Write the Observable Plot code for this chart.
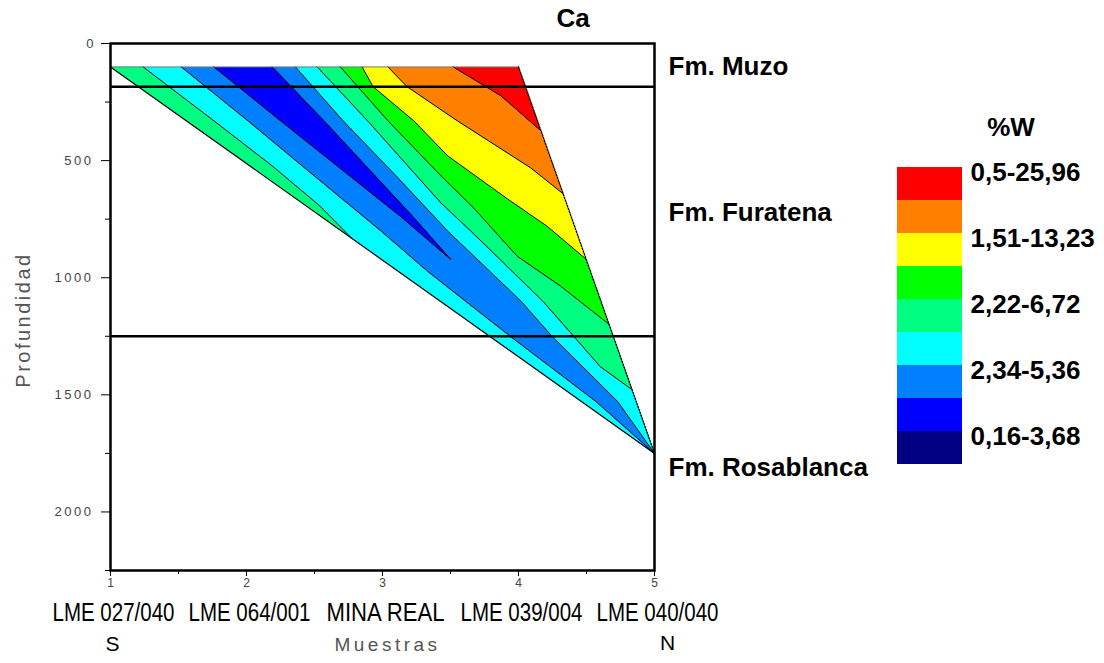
<!DOCTYPE html>
<html><head><meta charset="utf-8">
<script src="https://cdn.jsdelivr.net/npm/d3@7"></script>
<script src="https://cdn.jsdelivr.net/npm/@observablehq/plot@0.6"></script>
<style>
body{margin:0;background:#fff;font-family:"Liberation Sans",Arial,sans-serif;}
#wrap{position:relative;width:1104px;height:663px;overflow:hidden;}
#chart{position:absolute;left:0;top:0}
#legend{position:absolute;left:870px;top:90px}
#title{position:absolute;left:573px;top:3px;transform:translateX(-50%);font-weight:bold;font-size:26px;line-height:30px;}
</style></head><body>
<div id="wrap"><div id="chart"></div><div id="legend"></div><div id="title">Ca</div></div>
<script>
// ---- data ----
const samples = ["LME 027/040", "LME 064/001", "MINA REAL", "LME 039/004", "LME 040/040"];
const sampleX = [1, 2, 3, 4, 5];
const directions = ["S", "N"];
const directionX = [1, 5];
const yTicks = [0, 500, 1000, 1500, 2000];
const yMinor = [250, 750, 1250, 1750, 2250];
const xMinor = [1.5, 2.5, 3.5, 4.5];
const formationTops = [185, 1250];
const formations = ["Fm. Muzo", "Fm. Furatena", "Fm. Rosablanca"];
const formationLabelDepth = [98, 724, 1812];
const xTitle = "Muestras";
const yTitle = "Profundidad";

// data domain (sample position, depth)
const cornerTopLeft = [1, 100];
const cornerTopRight = [4, 100];
const cornerApex = [5, 1750];

// contour lines: [sample position, depth]
const c1 = [[1.24,100],[1.76,330],[2.19,523],[2.54,694],[2.78,835]];                                   // mint / cyan (W)
const c2 = [[1.52,100],[2.01,330],[2.41,523],[2.99,801],[3.33,972],[3.93,1246],[4.57,1529],[5,1750]];   // cyan / azure (W)
const c3 = [[1.76,100],[2.25,330],[3.13,737],[3.5,921]];                                                // azure / blue
const c4 = [[2.19,100],[2.57,330],[3.22,737],[3.5,921]];                                                // blue / azure
const c5 = [[2.36,100],[2.71,330],[3.10,565],[3.48,801],[4.02,1101],[4.24,1246],[4.73,1529],[5,1750]];  // azure / cyan (E)
const c6 = [[2.52,100],[2.89,330],[3.43,681],[3.65,801],[4.18,1101],[4.40,1246],[4.60,1379],[4.835,1478]]; // cyan / mint (E)
const c7 = [[2.69,100],[3.04,330],[3.43,565],[3.67,702],[3.99,908],[4.31,1036],[4.666,1199]];          // mint / green
const c8 = [[2.85,100],[2.93,184],[3.23,330],[3.48,480],[3.92,664],[4.21,780],[4.497,921]];            // green / yellow
const c9 = [[3.04,100],[3.18,184],[3.55,330],[4.09,531],[4.329,642]];                                  // yellow / orange
const c10 = [[3.52,100],[3.87,223],[4.165,373]];                                                        // orange / red

const legendColors = ["#ff0000","#ff8000","#ffff00","#00ff00","#00ff80","#00ffff","#0080ff","#0000ff","#000080"];
const legendLabels = ["0,5-25,96", "1,51-13,23", "2,22-6,72", "2,34-5,36", "0,16-3,68"];
const legendUnit = "%W";

// ---- bands built from the contour lines ----
const rev = a => a.slice().reverse();
const bands = [
  {color: "#00ff80", pts: [cornerTopLeft, ...c1]},
  {color: "#00ffff", pts: [...c1, ...rev(c2)]},
  {color: "#0080ff", pts: [...c2, ...rev(c5)]},
  {color: "#0000ff", pts: [...c3, ...rev(c4)]},
  {color: "#00ffff", pts: [...c5, ...rev(c6)]},
  {color: "#00ff80", pts: [...c6, ...rev(c7)]},
  {color: "#00ff00", pts: [...c7, ...rev(c8)]},
  {color: "#ffff00", pts: [...c8, ...rev(c9)]},
  {color: "#ff8000", pts: [...c9, ...rev(c10)]},
  {color: "#ff0000", pts: [...c10, cornerTopRight]}
];
const contours = [c1, c2, c3, c4, c5, c6, c7, c8, c9, c10];

const font = '"Liberation Sans", Arial, sans-serif';
const X = d => d[0], Y = d => d[1];

const marks = [];
for (const b of bands) marks.push(Plot.line(b.pts, {x: X, y: Y, fill: b.color, stroke: b.color, strokeWidth: 0.5}));
for (const c of contours) marks.push(Plot.line(c, {x: X, y: Y, stroke: "black", strokeWidth: 1}));
marks.push(
  Plot.line([cornerTopLeft, cornerTopRight], {x: X, y: Y, stroke: "#777", strokeWidth: 1}),
  Plot.line([cornerTopLeft, cornerApex], {x: X, y: Y, stroke: "black", strokeWidth: 1.2}),
  Plot.line([cornerTopRight, cornerApex], {x: X, y: Y, stroke: "black", strokeWidth: 1.3, strokeDasharray: "1.5,1.5"}),
  Plot.ruleY(formationTops, {stroke: "black", strokeWidth: 2.5}),
  Plot.frame({stroke: "black", strokeWidth: 2.5}),
  Plot.axisY(yTicks, {anchor: "left", tickSize: 9, tickPadding: 8, fontSize: 13, tickFormat: d => String(d), label: null, stroke: "black", fill: "#444"}),
  Plot.axisY(yMinor, {anchor: "left", tickSize: 5, tickFormat: () => "", label: null, stroke: "black"}),
  Plot.axisX(sampleX, {anchor: "bottom", tickSize: 6, tickPadding: 2, fontSize: 12, tickFormat: d => String(d), label: null, stroke: "black", fill: "#444"}),
  Plot.axisX(xMinor, {anchor: "bottom", tickSize: 4, tickFormat: () => "", label: null, stroke: "black"}),
  Plot.text(samples, {x: (d, i) => sampleX[i], frameAnchor: "bottom", dy: 50, dx: 3, fontSize: 25, fill: "black"}),
  Plot.text([xTitle], {frameAnchor: "bottom", dy: 80, dx: 5, fontSize: 19, fill: "#555"}),
  Plot.text(directions, {filter: (d, i) => i === 0, x: (d, i) => directionX[i], frameAnchor: "bottom", dy: 80, dx: 2, fontSize: 21, fill: "black"}),
  Plot.text(directions, {filter: (d, i) => i === 1, x: (d, i) => directionX[i], frameAnchor: "bottom", dy: 79, dx: 13, fontSize: 21, fill: "black"}),
  Plot.text([yTitle], {frameAnchor: "left", textAnchor: "middle", rotate: -90, dx: -87, dy: 13, fontSize: 20, fill: "#555"}),
  Plot.text(formations, {y: (d, i) => formationLabelDepth[i], frameAnchor: "right", textAnchor: "start", dx: 14, fontSize: 26, fontWeight: "bold", fill: "black"})
);

const chart = Plot.plot({
  width: 1104, height: 663,
  marginLeft: 110, marginRight: 450, marginTop: 43, marginBottom: 93,
  x: {domain: [1, 5]},
  y: {domain: [0, 2250], reverse: true},
  style: {fontFamily: font, background: "white", overflow: "visible"},
  marks
});
document.getElementById("chart").append(chart);

// text styling: narrow sample labels, spaced axis titles and tick labels
const svg = d3.select(chart);
svg.selectAll("text").each(function() {
  const t = this.textContent;
  const s = d3.select(this);
  if (samples.includes(t)) s.attr("textLength", t === "MINA REAL" ? 118 : 122).attr("lengthAdjust", "spacingAndGlyphs");
  else if (t === xTitle) s.style("letter-spacing", "3.5px");
  else if (t === yTitle) s.style("letter-spacing", "2.5px");
  else if (yTicks.map(String).includes(t) && t.length > 1) s.style("letter-spacing", "2.5px");
});

const legend = Plot.plot({
  width: 234, height: 390,
  marginLeft: 27, marginRight: 142, marginTop: 77, marginBottom: 16,
  x: {axis: null},
  y: {type: "band", domain: legendColors, padding: 0, axis: null},
  color: {type: "identity"},
  style: {fontFamily: font, background: "transparent", overflow: "visible"},
  marks: [
    Plot.cell(legendColors, {y: d => d, fill: d => d}),
    Plot.text(legendLabels, {y: (d, i) => legendColors[i * 2], frameAnchor: "right", textAnchor: "start", dx: 8, dy: -11, fontSize: 26, fontWeight: "bold", fill: "black"}),
    Plot.text([legendUnit], {frameAnchor: "top", dx: 81, dy: -50, fontSize: 26, fontWeight: "bold", fill: "black"})
  ]
});
document.getElementById("legend").append(legend);
</script>
</body></html>
